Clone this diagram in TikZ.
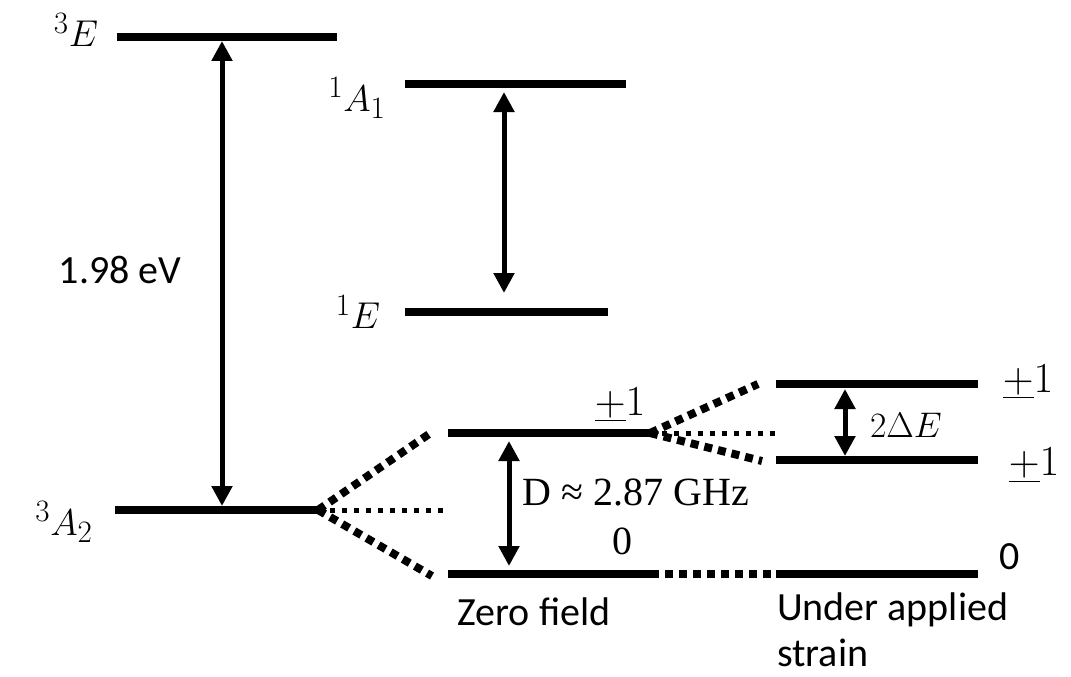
\documentclass[tikz,border=0pt]{standalone}
\usepackage{fontspec}
\setmainfont{Carlito}
\newfontfamily\cambria{Liberation Serif}
\usetikzlibrary{arrows.meta}
\tikzset{
  level/.style={line width=8pt},
  dbl/.style={line width=5pt,{Triangle[width=20pt,length=20pt]}-{Triangle[width=20pt,length=20pt]},shorten <=0pt,shorten >=0pt},
  thickdot/.style={line width=8pt,dash pattern=on 8pt off 6pt},
  thindot/.style={line width=5pt,dash pattern=on 5pt off 7pt},
  mlab/.style={inner sep=0pt,font=\Huge,scale=1.5},
  pmlab/.style={inner sep=0pt,font=\Huge,scale=1.72},
  dlab/.style={inner sep=0pt,font=\Huge,scale=1.43},
  tlab/.style={inner sep=0pt,font=\fontsize{40}{46}\selectfont},
  slab/.style={inner sep=0pt,font=\cambria\fontsize{40}{46}\selectfont},
}
\begin{document}
\begin{tikzpicture}[x=1pt,y=-1pt]
\useasboundingbox (0,0) rectangle (1071,677);
% level end points
\coordinate (E3l) at (117,37);  \coordinate (E3r) at (337,37);
\coordinate (A1l) at (405,84);  \coordinate (A1r) at (626,84);
\coordinate (E1l) at (405,312); \coordinate (E1r) at (608,312);
\coordinate (A2l) at (115,510); \coordinate (A2r) at (318,510);
\coordinate (Zpl) at (448,433); \coordinate (Zpr) at (650,433);
\coordinate (Z0l) at (448,574); \coordinate (Z0r) at (651,574);
\coordinate (Sul) at (776,384); \coordinate (Sur) at (978,384);
\coordinate (Sll) at (776,460); \coordinate (Slr) at (978,460);
\coordinate (S0l) at (776,574); \coordinate (S0r) at (978,574);
% levels
\draw[level] (E3l) -- (E3r);
\draw[level] (A1l) -- (A1r);
\draw[level] (E1l) -- (E1r);
\draw[level] (A2l) -- (A2r);
\draw[level] (Zpl) -- (Zpr);
\draw[level] (Z0l) -- (Z0r);
\draw[level] (Sul) -- (Sur);
\draw[level] (Sll) -- (Slr);
\draw[level] (S0l) -- (S0r);
% dotted connectors
\coordinate (d1) at (432,432);
\coordinate (d2) at (432,576);
\coordinate (d3) at (443,510);
\draw[thickdot] (A2r) -- (d1);
\draw[thickdot] (A2r) -- (d2);
\draw[thindot] (A2r) -- (d3);
\coordinate (d4) at (758,384);
\coordinate (d5) at (762,461);
\coordinate (d6) at (775,433);
\draw[thickdot] (Zpr) -- (d4);
\draw[thickdot] (Zpr) -- (d5);
\draw[thindot] (Zpr) -- (d6);
\draw[thickdot] (Z0r) -- (S0l);
% arrows
\coordinate (a1t) at (222,41); \coordinate (a1b) at (222,506);
\draw[dbl] (a1t) -- (a1b);
\coordinate (a2t) at (504,92); \coordinate (a2b) at (504,293);
\draw[dbl] (a2t) -- (a2b);
\coordinate (a3t) at (509,441); \coordinate (a3b) at (509,566);
\draw[dbl] (a3t) -- (a3b);
\coordinate (a4t) at (845,389); \coordinate (a4b) at (845,456);
\draw[dbl] (a4t) -- (a4b);
% labels
\node[mlab] (lE3) at (76,30) {$^3E$};
\node[mlab] (lA1) at (357,98) {$^1A_1$};
\node[mlab] (lE1) at (358,312) {$^1E$};
\node[mlab] (lA2) at (64,522) {$^3A_2$};
\node[tlab] (lev) at (120,270) {1.98 eV};
\node[pmlab] (lpz) at (620,405) {$\underline{+}1$};
\node[slab] (l0z) at (622,541) {0};
\node[slab] (lD) at (636,492) {D ≈ 2.87 GHz};
\node[dlab] (ldE) at (906,425) {$2\Delta E$};
\node[pmlab] (lpu) at (1028,382) {$\underline{+}1$};
\node[pmlab] (lpl) at (1034,465) {$\underline{+}1$};
\node[tlab] (l0s) at (1010,557) {0};
\node[tlab] (lzf) at (534,612) {Zero field};
\node[tlab,anchor=west,align=left] (lus) at (777,630) {Under applied\\strain};
\end{tikzpicture}
\end{document}
